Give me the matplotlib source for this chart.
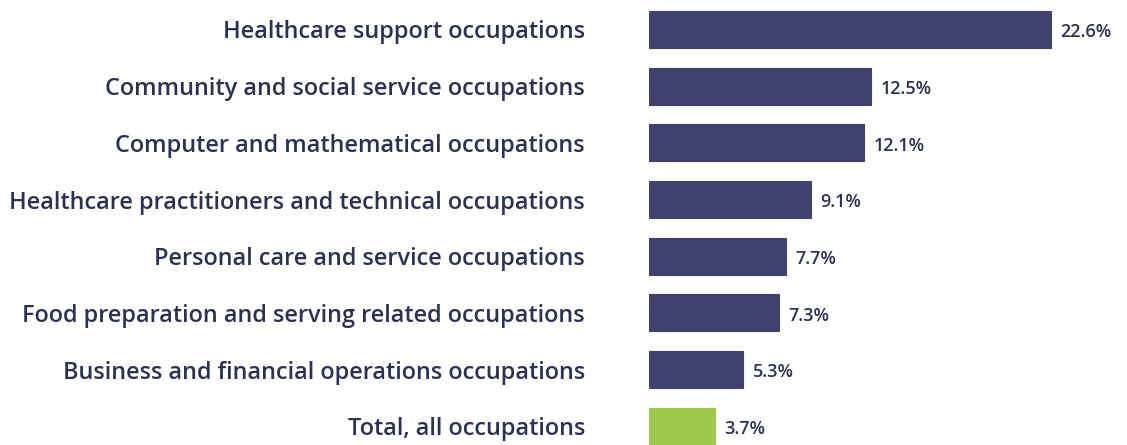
import matplotlib.pyplot as plt

categories = [
    "Healthcare support occupations",
    "Community and social service occupations",
    "Computer and mathematical occupations",
    "Healthcare practitioners and technical occupations",
    "Personal care and service occupations",
    "Food preparation and serving related occupations",
    "Business and financial operations occupations",
    "Total, all occupations",
]
values = [22.6, 12.5, 12.1, 9.1, 7.7, 7.3, 5.3, 3.7]
value_labels = ["22.6%", "12.5%", "12.1%", "9.1%", "7.7%", "7.3%", "5.3%", "3.7%"]

navy = "#41416d"
green = "#9dca4c"
text_col = "#2b3154"
colors = [navy] * 7 + [green]

plt.rcParams['font.family'] = ['Open Sans', 'DejaVu Sans']

fig = plt.figure(figsize=(11.27, 4.45), dpi=100)
ax = fig.add_axes([649 / 1127, 0, 1 - 649 / 1127, 1])

ypos = list(range(len(values)))
ax.barh(ypos, values, height=0.65, color=colors, edgecolor=colors, linewidth=0.8)

for y, v, lab in zip(ypos, values, value_labels):
    ax.text(v + 0.55, y + 0.05, lab, va='center', ha='left', fontsize=13,
            color=text_col, fontweight='semibold')

ax.set_yticks(ypos)
ax.set_yticklabels(categories, fontsize=16.9, color=text_col, fontweight='semibold')
ax.tick_params(axis='y', length=0, pad=46)
ax.set_xticks([])
ax.set_xlim(0, 26.9)
ax.set_ylim(7.33, -0.52)
for s in ax.spines.values():
    s.set_visible(False)

fig.savefig("out.png", dpi=100)
